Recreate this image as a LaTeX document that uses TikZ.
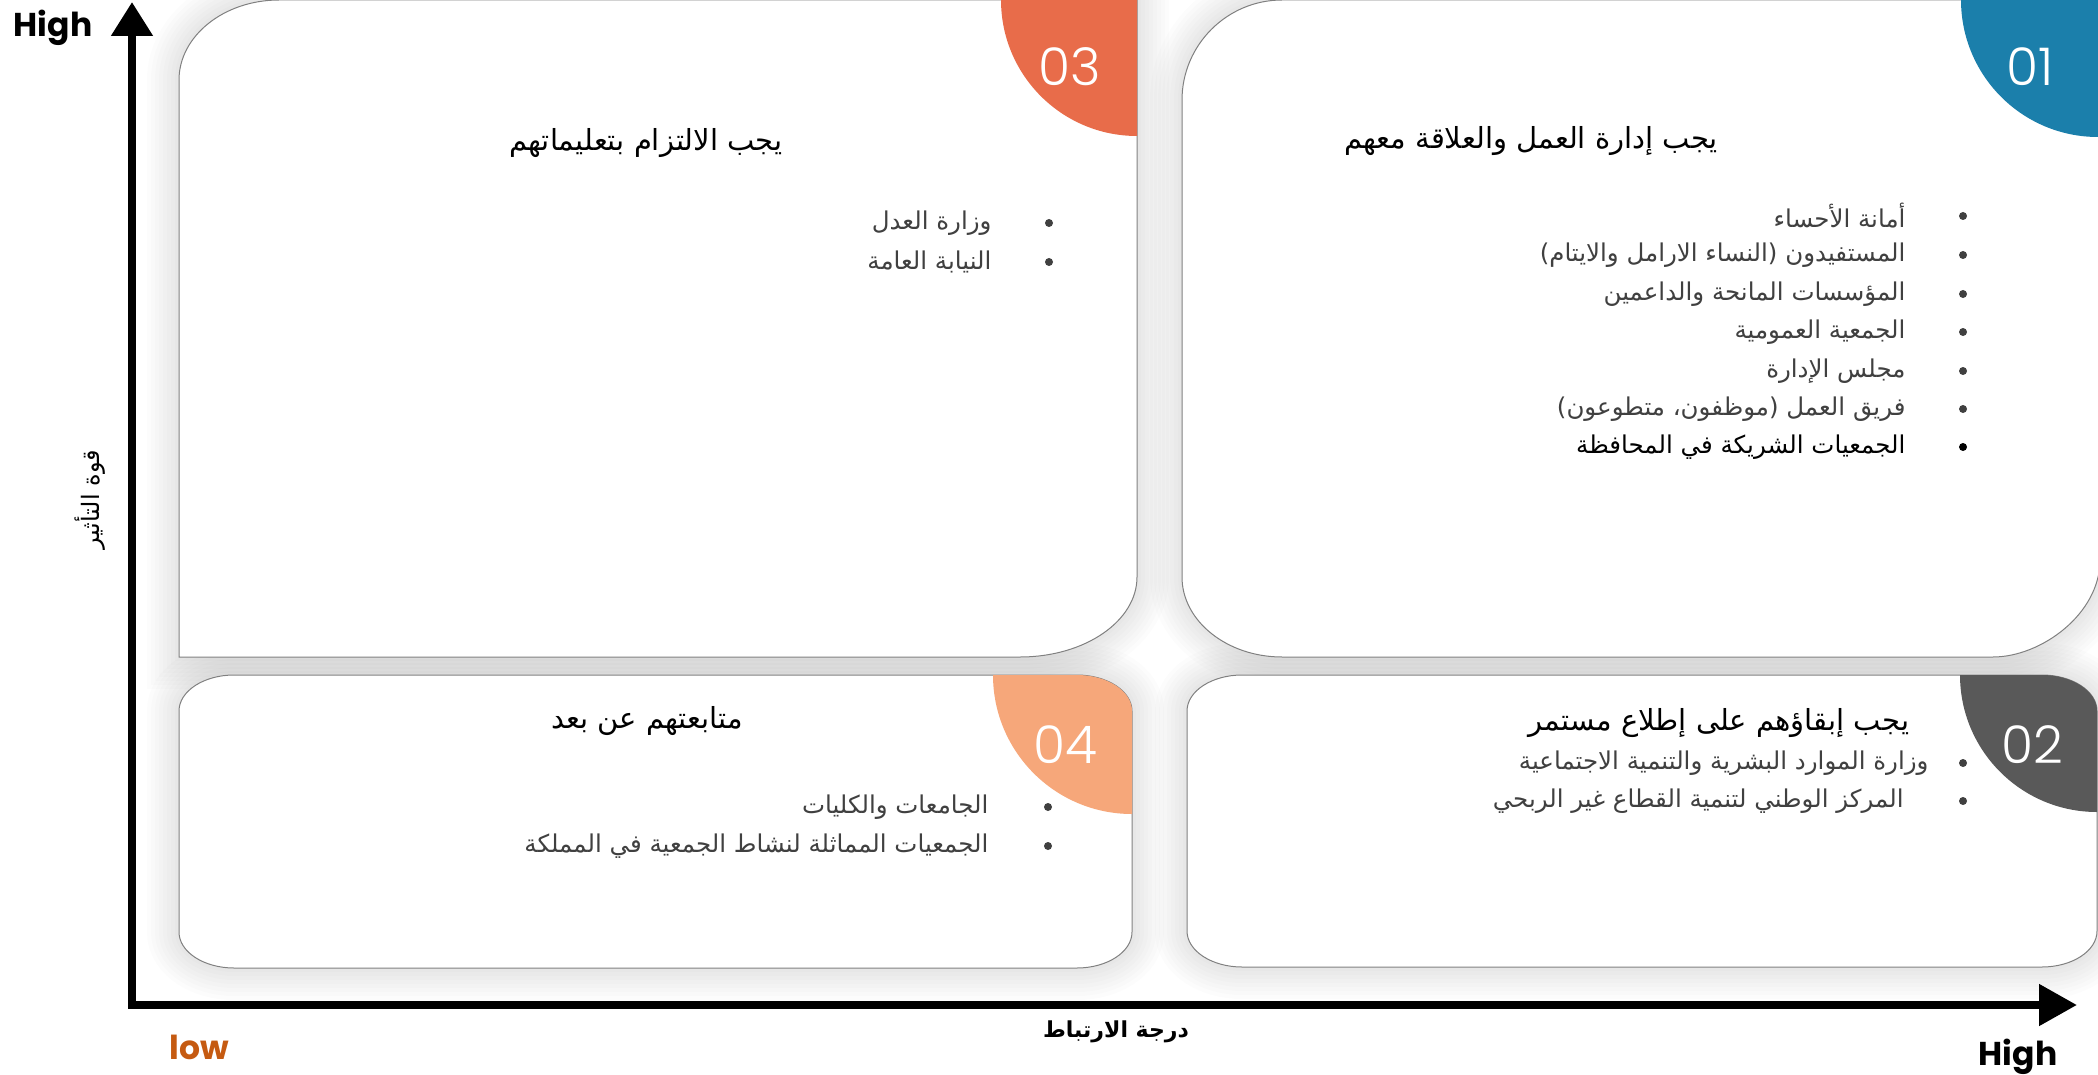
\documentclass[tikz,border=0pt]{standalone}
\usepackage{fontspec}
\usetikzlibrary{arrows.meta}
\TeXXeTstate=1
\newfontfamily\arabicfont[Script=Arabic]{DejaVu Sans}
\newfontfamily\latinfont{Poppins}
\newfontfamily\numfont{Poppins Light}

\definecolor{blueq}{RGB}{27,127,171}
\definecolor{orangeq}{RGB}{232,108,74}
\definecolor{peachq}{RGB}{246,167,122}
\definecolor{grayq}{RGB}{89,89,89}
\definecolor{lowc}{RGB}{197,90,17}
\definecolor{itemc}{RGB}{64,64,64}

% box outlines (pixel coordinates, y down)
\newcommand{\pathone}{(1182,100) .. controls (1182,45) and (1227,0) .. (1282,0) -- (2100,0) -- (2100,560)
  .. controls (2100,614) and (2041,657) .. (1993,657) -- (1282,657)
  .. controls (1227,657) and (1182,621) .. (1182,577) -- cycle}
\newcommand{\paththree}{(179,80) .. controls (179,36) and (224,0) .. (279,0) -- (1137,0) -- (1137,577)
  .. controls (1137,621) and (1085,657) .. (1020,657) -- (179,657) -- cycle}
\newcommand{\pathfour}{(179,711) .. controls (179,691) and (204,675) .. (234,675) -- (1077,675)
  .. controls (1107,675) and (1132,691) .. (1132,711) -- (1132,932)
  .. controls (1132,952) and (1107,968) .. (1077,968) -- (234,968)
  .. controls (204,968) and (179,952) .. (179,932) -- cycle}
\newcommand{\pathtwo}{(1187,711) .. controls (1187,691) and (1212,675) .. (1242,675) -- (2042,675)
  .. controls (2072,675) and (2097,691) .. (2097,711) -- (2097,931)
  .. controls (2097,951) and (2072,967) .. (2042,967) -- (1242,967)
  .. controls (1212,967) and (1187,951) .. (1187,931) -- cycle}

\tikzset{
  boxline/.style={draw=black!50, line width=1pt, fill=white},
  numtext/.style={text=white, font=\numfont\fontsize{52}{52}\selectfont},
  head/.style={text=black, font=\arabicfont\fontsize{29}{34}\selectfont},
  item/.style={anchor=east, text=itemc, font=\arabicfont\fontsize{24.5}{29}\selectfont},
  axislab/.style={font=\latinfont\bfseries\fontsize{33}{33}\selectfont}
}

\begin{document}
\begin{tikzpicture}[x=1pt, y=-1pt]
\useasboundingbox (0,0) rectangle (2098,1075);

% soft shadows
\foreach \p in {\pathone,\pathtwo,\paththree,\pathfour}
  \foreach \w in {8,16,...,64}
    \draw[line width=\w pt, black, opacity=0.012] \p;

% boxes with their corner quadrants
\draw[boxline] \pathone;
\begin{scope}
  \clip \pathone;
  \fill[blueq] (2098,0) circle (137);
\end{scope}
\draw[boxline] \paththree;
\begin{scope}
  \clip \paththree;
  \fill[orangeq] (1137,0) circle (136);
\end{scope}
\draw[boxline] \pathfour;
\begin{scope}
  \clip \pathfour;
  \fill[peachq] (1132,675) circle (139);
\end{scope}
\draw[boxline] \pathtwo;
\begin{scope}
  \clip \pathtwo;
  \fill[grayq] (2097,675) circle (137);
\end{scope}

\node[numtext] (n1) at (2030,67) {01};
\node[numtext] (n3) at (1070,67) {03};
\node[numtext] (n4) at (1065,745) {04};
\node[numtext] (n2) at (2032,745) {02};

% axes
\coordinate (origin) at (132,1005);
\coordinate (ytop) at (132,2);
\coordinate (xend) at (2077,1005);
\draw[line width=8pt, line join=miter, {Triangle[length=34pt,width=40pt]}-{Triangle[length=38pt,width=40pt]}]
  (ytop) -- (origin) -- (xend);

\node[axislab] (hightop) at (53,28) {High};
\node[axislab, text=lowc] (lowlab) at (199,1047) {low};
\node[axislab] (highright) at (2018,1057) {High};
\node[font=\arabicfont\bfseries\fontsize{22}{22}\selectfont] (xlab) at (1116,1032) {\beginR درجة الارتباط\endR};
\node[rotate=90, font=\arabicfont\fontsize{24}{24}\selectfont] (ylab) at (90,500) {\beginR قوة التأثير\endR};

% box 01
\node[head] (t1) at (1531,141) {\beginR يجب إدارة العمل والعلاقة معهم\endR};
\foreach \y/\c/\txt [count=\i] in {216/itemc/أمانة الأحساء, 255/itemc/المستفيدون (النساء الارامل والايتام),
    294/itemc/المؤسسات المانحة والداعمين, 332/itemc/الجمعية العمومية, 371/itemc/مجلس الإدارة,
    409/itemc/فريق العمل (موظفون، متطوعون), 447/black/الجمعيات الشريكة في المحافظة}{
  \node[item, text=\c] (a\i) at (1909,\y) {\beginR\txt\endR};
  \fill[\c] (1963,\y) circle (4);
}

% box 03
\node[head] (t3) at (646,143) {\beginR يجب الالتزام بتعليماتهم\endR};
\foreach \y/\txt [count=\i] in {223/وزارة العدل, 262/النيابة العامة}{
  \node[item] (c\i) at (995,\y) {\beginR\txt\endR};
  \fill[itemc] (1049,\y) circle (4);
}

% box 04
\node[head] (t4) at (647,721) {\beginR متابعتهم عن بعد\endR};
\foreach \y/\txt [count=\i] in {807/الجامعات والكليات, 846/الجمعيات المماثلة لنشاط الجمعية في المملكة}{
  \node[item] (d\i) at (992,\y) {\beginR\txt\endR};
  \fill[itemc] (1048,\y) circle (4);
}

% box 02
\node[head] (t2) at (1719,723) {\beginR يجب إبقاؤهم على إطلاع مستمر\endR};
\node[item] (b1) at (1932,763) {\beginR وزارة الموارد البشرية والتنمية الاجتماعية\endR};
\fill[itemc] (1963,763) circle (4);
\node[item] (b2) at (1907,801) {\beginR المركز الوطني لتنمية القطاع غير الربحي\endR};
\fill[itemc] (1963,801) circle (4);

\end{tikzpicture}
\end{document}
